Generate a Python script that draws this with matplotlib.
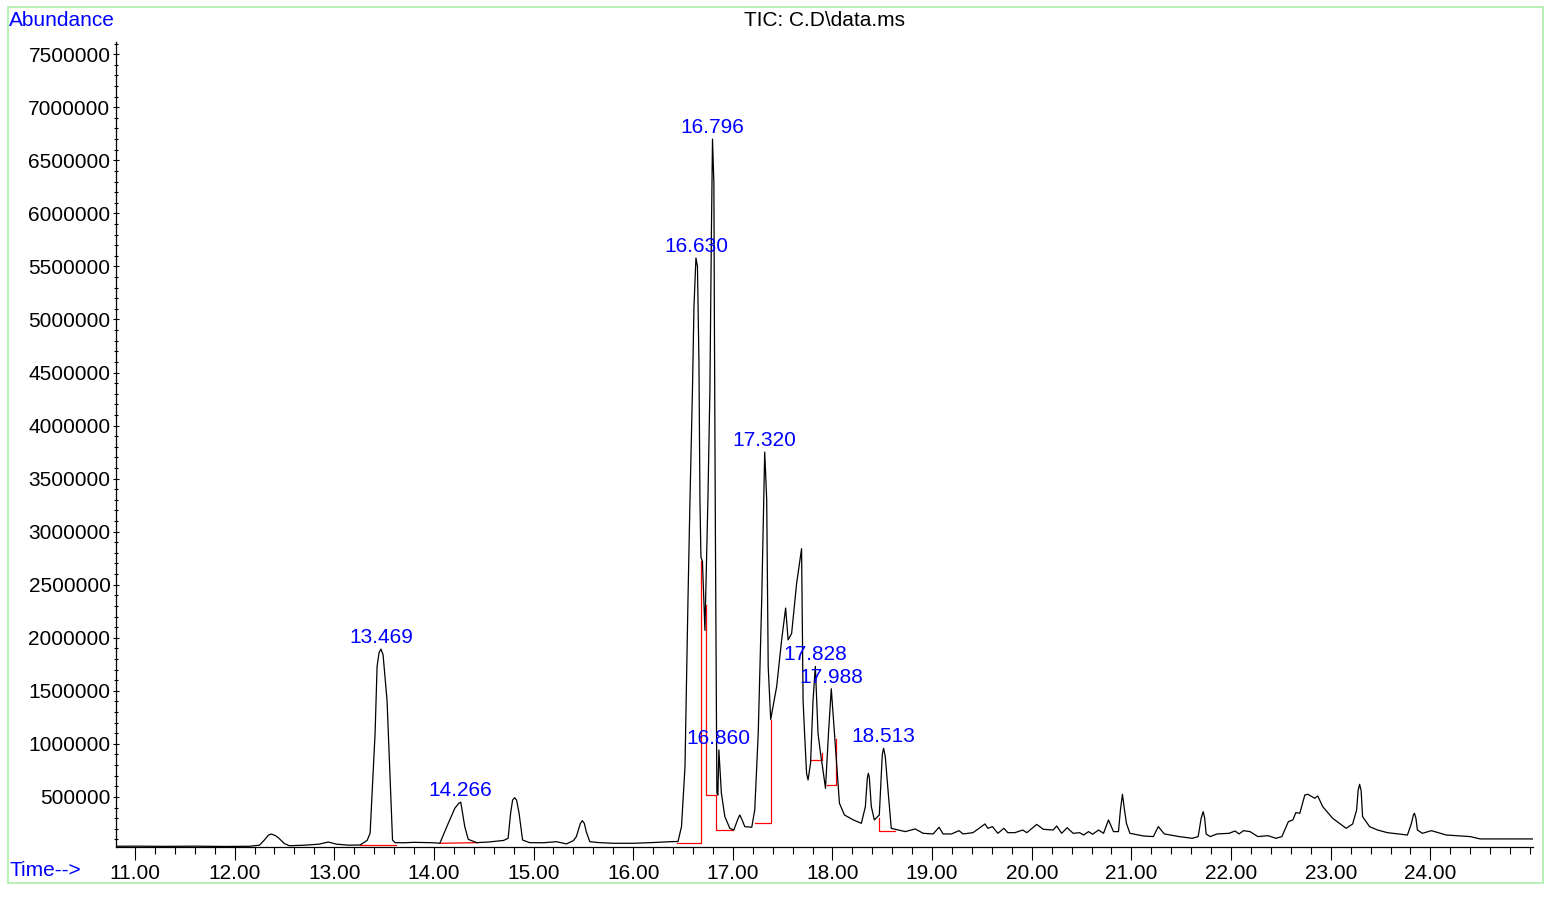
import matplotlib.pyplot as plt
from matplotlib.patches import Rectangle
from matplotlib.ticker import MultipleLocator, FormatStrFormatter

plt.rcParams['font.family'] = ['Liberation Sans', 'DejaVu Sans']

# TIC trace (time in min, abundance in counts)
time = [10.81, 11.00, 11.30, 11.60, 11.90, 12.15, 12.25, 12.30, 12.34, 12.37, 12.41, 12.44, 12.50, 12.55,
        12.70, 12.85, 12.94, 13.02, 13.15, 13.26, 13.33, 13.36, 13.41, 13.43, 13.45, 13.469, 13.49,
        13.53, 13.55, 13.585, 13.61, 13.70, 13.80, 13.90, 14.00, 14.06, 14.13, 14.21, 14.25, 14.27,
        14.31, 14.345, 14.43, 14.55, 14.70, 14.745, 14.77, 14.79, 14.81, 14.83, 14.855, 14.89, 14.96,
        15.10, 15.23, 15.33, 15.40, 15.43, 15.47, 15.49, 15.51, 15.53, 15.565, 15.65, 15.80, 16.00,
        16.20, 16.37, 16.45, 16.485, 16.52, 16.55, 16.57, 16.595, 16.61, 16.63, 16.645, 16.66, 16.67,
        16.68, 16.695, 16.72, 16.75, 16.77, 16.785, 16.796, 16.81, 16.815, 16.825, 16.84, 16.85,
        16.86, 16.885, 16.92, 16.97, 17.01, 17.05, 17.07, 17.09, 17.12, 17.19, 17.22, 17.255, 17.29, 17.31,
        17.32, 17.34, 17.355, 17.38, 17.44, 17.49, 17.53, 17.555, 17.59, 17.64, 17.69, 17.705, 17.72,
        17.74, 17.755, 17.78, 17.805, 17.828, 17.855, 17.88, 17.90, 17.93, 17.96, 17.988, 18.02, 18.045,
        18.07, 18.12, 18.21, 18.29, 18.33, 18.35, 18.36, 18.37, 18.39, 18.42, 18.47, 18.50, 18.513,
        18.53, 18.56, 18.59, 18.66, 18.73, 18.83, 18.91, 19.01, 19.07, 19.11, 19.195, 19.27, 19.31,
        19.41, 19.48, 19.53, 19.56, 19.605, 19.66, 19.72, 19.76, 19.83, 19.91, 19.95, 20.05, 20.115,
        20.215, 20.25, 20.30, 20.355, 20.415, 20.48, 20.52, 20.57, 20.61, 20.67, 20.72, 20.77, 20.82,
        20.87, 20.89, 20.91, 20.93, 20.95, 20.985, 21.12, 21.22, 21.27, 21.33, 21.48, 21.61, 21.67,
        21.70, 21.72, 21.735, 21.75, 21.79, 21.86, 21.98, 22.04, 22.08, 22.125, 22.19, 22.27, 22.37,
        22.45, 22.51, 22.575, 22.62, 22.65, 22.69, 22.74, 22.77, 22.84, 22.87, 22.92, 23.02, 23.155,
        23.22, 23.26, 23.275, 23.29, 23.305, 23.32, 23.39, 23.47, 23.57, 23.77, 23.81, 23.83, 23.84,
        23.855, 23.87, 23.92, 24.01, 24.16, 24.40, 24.50, 24.74, 25.03]
abund = [35000, 36000, 34000, 36000, 33000, 35000, 45000, 95000, 140000, 150000, 135000, 115000, 60000, 40000,
         45000, 55000, 75000, 55000, 45000, 47000, 90000, 157000, 1100000, 1730000, 1860000, 1894000, 1840000,
         1410000, 940000, 94000, 69000, 68000, 72000, 70000, 68000, 63000, 220000, 393000, 440000, 450000,
         220000, 100000, 69000, 75000, 90000, 110000, 346000, 470000, 493000, 470000, 346000, 94000, 69000,
         68000, 78000, 57000, 88000, 126000, 250000, 276000, 250000, 170000, 78000, 70000, 63000, 63000,
         70000, 78000, 80000, 220000, 785000, 2360000, 3300000, 4340000, 5120000, 5580000, 5500000, 4600000, 3300000,
         2760000, 2720000, 2070000, 3300000, 4340000, 5810000, 6700000, 6280000, 5000000, 3000000, 537000, 518000,
         943000, 537000, 314000, 204000, 188000, 290000, 330000, 290000, 220000, 214000, 377000, 1100000, 2360000, 3300000,
         3750000, 3300000, 1730000, 1230000, 1540000, 1980000, 2280000, 1980000, 2040000, 2510000, 2840000, 1410000, 1100000,
         723000, 660000, 817000, 1410000, 1730000, 1100000, 911000, 785000, 581000, 1100000, 1520000, 1100000, 785000,
         440000, 330000, 283000, 251000, 408000, 680000, 723000, 680000, 408000, 283000, 330000, 900000, 958000,
         880000, 534000, 204000, 188000, 173000, 198000, 157000, 151000, 214000, 151000, 151000, 182000, 151000,
         163000, 210000, 245000, 204000, 220000, 157000, 204000, 163000, 163000, 188000, 163000, 241000, 195000,
         188000, 226000, 157000, 210000, 157000, 163000, 141000, 173000, 148000, 188000, 157000, 283000, 173000,
         173000, 380000, 525000, 380000, 251000, 157000, 132000, 126000, 220000, 151000, 126000, 110000, 126000,
         300000, 361000, 300000, 151000, 126000, 151000, 157000, 179000, 151000, 182000, 173000, 126000, 135000,
         110000, 126000, 267000, 283000, 352000, 346000, 518000, 525000, 487000, 509000, 408000, 298000, 204000,
         245000, 377000, 560000, 619000, 560000, 314000, 220000, 188000, 163000, 141000, 251000, 330000, 346000,
         300000, 188000, 157000, 182000, 141000, 126000, 104000, 104000, 104000]

# labelled peaks
peak_rt = [13.469, 14.266, 16.630, 16.796, 16.860, 17.320, 17.828, 17.988, 18.513]
peak_top = [1894000, 450000, 5580000, 6700000, 943000, 3750000, 1730000, 1520000, 958000]

# integration baselines (red)
base_t = [[13.26, 13.615], [14.06, 14.445], [16.435, 16.68, 16.68], [16.735, 16.735, 16.835],
          [16.835, 16.835, 17.005], [17.22, 17.38, 17.38], [17.78, 17.89, 17.89],
          [17.945, 18.04, 18.04], [18.47, 18.47, 18.625]]
base_a = [[47000, 47000], [63000, 69000], [69000, 69000, 2720000], [2310000, 518000, 518000],
          [518000, 188000, 188000], [257000, 257000, 1225000], [848000, 848000, 911000],
          [613000, 613000, 1050000], [298000, 179000, 179000]]

x_ticks = list(range(11, 25))

W, H = 1551, 898
fig = plt.figure(figsize=(W / 100, H / 100), dpi=100)
ax = fig.add_axes([116 / W, 1 - 847 / H, (1533 - 116) / W, (847 - 42) / H])

for bt, ba in zip(base_t, base_a):
    ax.plot(bt, ba, color='red', lw=0.9)
ax.plot(time, abund, color='black', lw=0.9)

for rt, top in zip(peak_rt, peak_top):
    ax.annotate(f'{rt:.3f}', xy=(rt, top), xytext=(0, 1.5), textcoords='offset points',
                ha='center', va='bottom', color='blue', fontsize=15)

ax.set_xlim(10.81, 25.03)
ax.set_ylim(28000, 7.615e6)
ax.set_xticks(x_ticks)
ax.xaxis.set_minor_locator(MultipleLocator(0.2))
ax.xaxis.set_major_formatter(FormatStrFormatter('%.2f'))
ax.yaxis.set_major_locator(MultipleLocator(500000))
ax.yaxis.set_minor_locator(MultipleLocator(100000))
ax.yaxis.set_major_formatter(FormatStrFormatter('%d'))

ax.tick_params(axis='x', which='major', direction='out', length=9, width=0.8, pad=3, labelsize=15)
ax.tick_params(axis='x', which='minor', direction='out', length=5, width=0.8)
ax.tick_params(axis='y', which='major', direction='inout', length=4, width=0.8, pad=2, labelsize=15)
ax.tick_params(axis='y', which='minor', direction='inout', length=3, width=0.8)

for s in ['top', 'right']:
    ax.spines[s].set_visible(False)
for s in ['left', 'bottom']:
    ax.spines[s].set_linewidth(0.9)

fig.text(9 / W, 1 - 20 / H, 'Abundance', color='blue', fontsize=15, ha='left', va='center')
fig.text(9 / W, 1 - 871 / H, 'Time-->', color='blue', fontsize=15, ha='left', va='center')
fig.text(824.5 / W, 1 - 20 / H, 'TIC: C.D\\data.ms', color='black', fontsize=15, ha='center', va='center')

fig.add_artist(Rectangle((8 / W, 1 - 883 / H), (1543 - 8) / W, (883 - 7) / H,
                         transform=fig.transFigure, fill=False, edgecolor='#aaf0aa', lw=1.2))

fig.savefig('out.png', dpi=100)
